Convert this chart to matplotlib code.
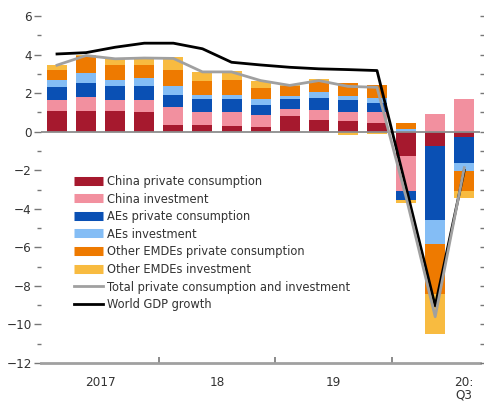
import numpy as np
import matplotlib.pyplot as plt
from matplotlib.lines import Line2D

#%% data (percentage points)
quarters = ['17Q1', '17Q2', '17Q3', '17Q4', '18Q1', '18Q2', '18Q3', '18Q4',
            '19Q1', '19Q2', '19Q3', '19Q4', '20Q1', '20Q2', '20Q3']
china_cons = [1.05, 1.05, 1.05, 1.00, 0.35, 0.34, 0.27, 0.25, 0.79, 0.61, 0.56, 0.43, -1.26, -0.74, -0.27]
china_inv = [0.59, 0.76, 0.59, 0.64, 0.91, 0.66, 0.73, 0.61, 0.38, 0.51, 0.44, 0.57, -1.82, 0.93, 1.68]
aes_cons = [0.66, 0.69, 0.71, 0.71, 0.64, 0.69, 0.69, 0.52, 0.52, 0.61, 0.66, 0.47, -0.47, -3.82, -1.33]
aes_inv = [0.38, 0.55, 0.35, 0.42, 0.45, 0.21, 0.21, 0.31, 0.17, 0.31, 0.20, 0.26, 0.15, -1.26, -0.44]
emde_cons = [0.52, 0.87, 0.78, 0.71, 0.87, 0.73, 0.78, 0.56, 0.49, 0.57, 0.65, 0.69, 0.28, -2.61, -1.04]
emde_inv = [0.28, 0.06, 0.33, 0.33, 0.64, 0.48, 0.49, 0.40, 0.07, 0.12, -0.18, -0.13, -0.17, -2.07, -0.38]
total_ci = [3.45, 3.95, 3.78, 3.82, 3.80, 3.10, 3.10, 2.65, 2.40, 2.65, 2.35, 2.30, -3.40, -9.60, -1.87]
world_gdp = [4.03, 4.10, 4.38, 4.59, 4.59, 4.30, 3.60, 3.46, 3.34, 3.26, 3.22, 3.17, -2.90, -9.04, -2.00]

series = [china_cons, china_inv, aes_cons, aes_inv, emde_cons, emde_inv]
labels = ['China private consumption', 'China investment', 'AEs private consumption',
          'AEs investment', 'Other EMDEs private consumption', 'Other EMDEs investment']
colors = ['#a6192e', '#f2909f', '#0a50b4', '#84bdf5', '#ee7a00', '#f8bb40']

year_labels = ['2017', '18', '19', '20:\nQ3']
year_pos = [1.5, 5.5, 9.5, 14]
year_breaks = [3.5, 7.5, 11.5]

#%% plot features
plt.rcParams['font.family'] = ['DejaVu Sans']
plt.rcParams['font.stretch'] = 'condensed'
font_size = 9.6
legend_size = 9.2
grey = '#8c8c8c'

fig = plt.figure(figsize=(4.84, 4.01), dpi=100)
ax = fig.add_axes([41 / 484, 38 / 401, 439 / 484, 347 / 401])

x = np.arange(len(quarters))
pos_base = np.zeros(len(quarters))
neg_base = np.zeros(len(quarters))
for vals, col in zip(series, colors):
    vals = np.array(vals)
    pos = np.where(vals > 0, vals, 0)
    neg = np.where(vals < 0, vals, 0)
    ax.bar(x, pos, 0.69, bottom=pos_base, color=col, zorder=2)
    ax.bar(x, neg, 0.69, bottom=neg_base, color=col, zorder=2)
    pos_base += pos
    neg_base += neg

ax.axhline(0, color=grey, lw=1.3, zorder=3)
ax.plot(x, world_gdp, color='black', lw=2, zorder=4)
ax.plot(x, total_ci, color='#a0a0a0', lw=2, zorder=5)

ax.set_xlim(-0.55, 14.54)
ax.set_ylim(-12, 6)

for s in ['top', 'right', 'left']:
    ax.spines[s].set_visible(False)
ax.spines['bottom'].set_color('#a0a0a0')
ax.spines['bottom'].set_linewidth(2)

ax.set_yticks(np.arange(-12, 7, 2))
ax.set_yticks(np.arange(-11, 7, 2), minor=True)
ax.tick_params(axis='y', which='major', length=5, width=1, color='#777777',
               labelsize=font_size, labelcolor='#333333', pad=1.5)
ax.tick_params(axis='y', which='minor', length=3, width=1, color='#777777')

ax.set_xticks(year_breaks)
ax.set_xticklabels([])
ax.tick_params(axis='x', which='major', direction='in', length=4, width=1.2, color='#777777')
ax.set_xticks(year_pos, minor=True)
ax.set_xticklabels(year_labels, minor=True, fontsize=font_size, color='#333333', linespacing=1.05)
ax.tick_params(axis='x', which='minor', length=0, pad=9)

# right hand ticks at every integer
ax2 = ax.twinx()
ax2.set_ylim(-12, 6)
ax2.set_yticks(np.arange(-12, 7, 1))
ax2.set_yticklabels([])
ax2.tick_params(axis='y', length=3, width=1, color='#777777')
for s in ax2.spines.values():
    s.set_visible(False)

#%% legend
handles = [Line2D([0], [0], color=c, lw=6.5, solid_capstyle='butt') for c in colors]
handles.append(Line2D([0], [0], color='#a0a0a0', lw=2))
handles.append(Line2D([0], [0], color='black', lw=2))
leg_labels = labels + ['Total private consumption and investment', 'World GDP growth']
ax.legend(handles, leg_labels, loc='upper left', bbox_to_anchor=(74 / 484, 1 - 175 / 401),
          bbox_transform=fig.transFigure, frameon=False, fontsize=legend_size,
          handlelength=2.25, handletextpad=0.3, labelspacing=0.36, borderpad=0,
          borderaxespad=0)
for t in ax.get_legend().get_texts():
    t.set_color('#333333')

fig.savefig('out.png', dpi=100)
